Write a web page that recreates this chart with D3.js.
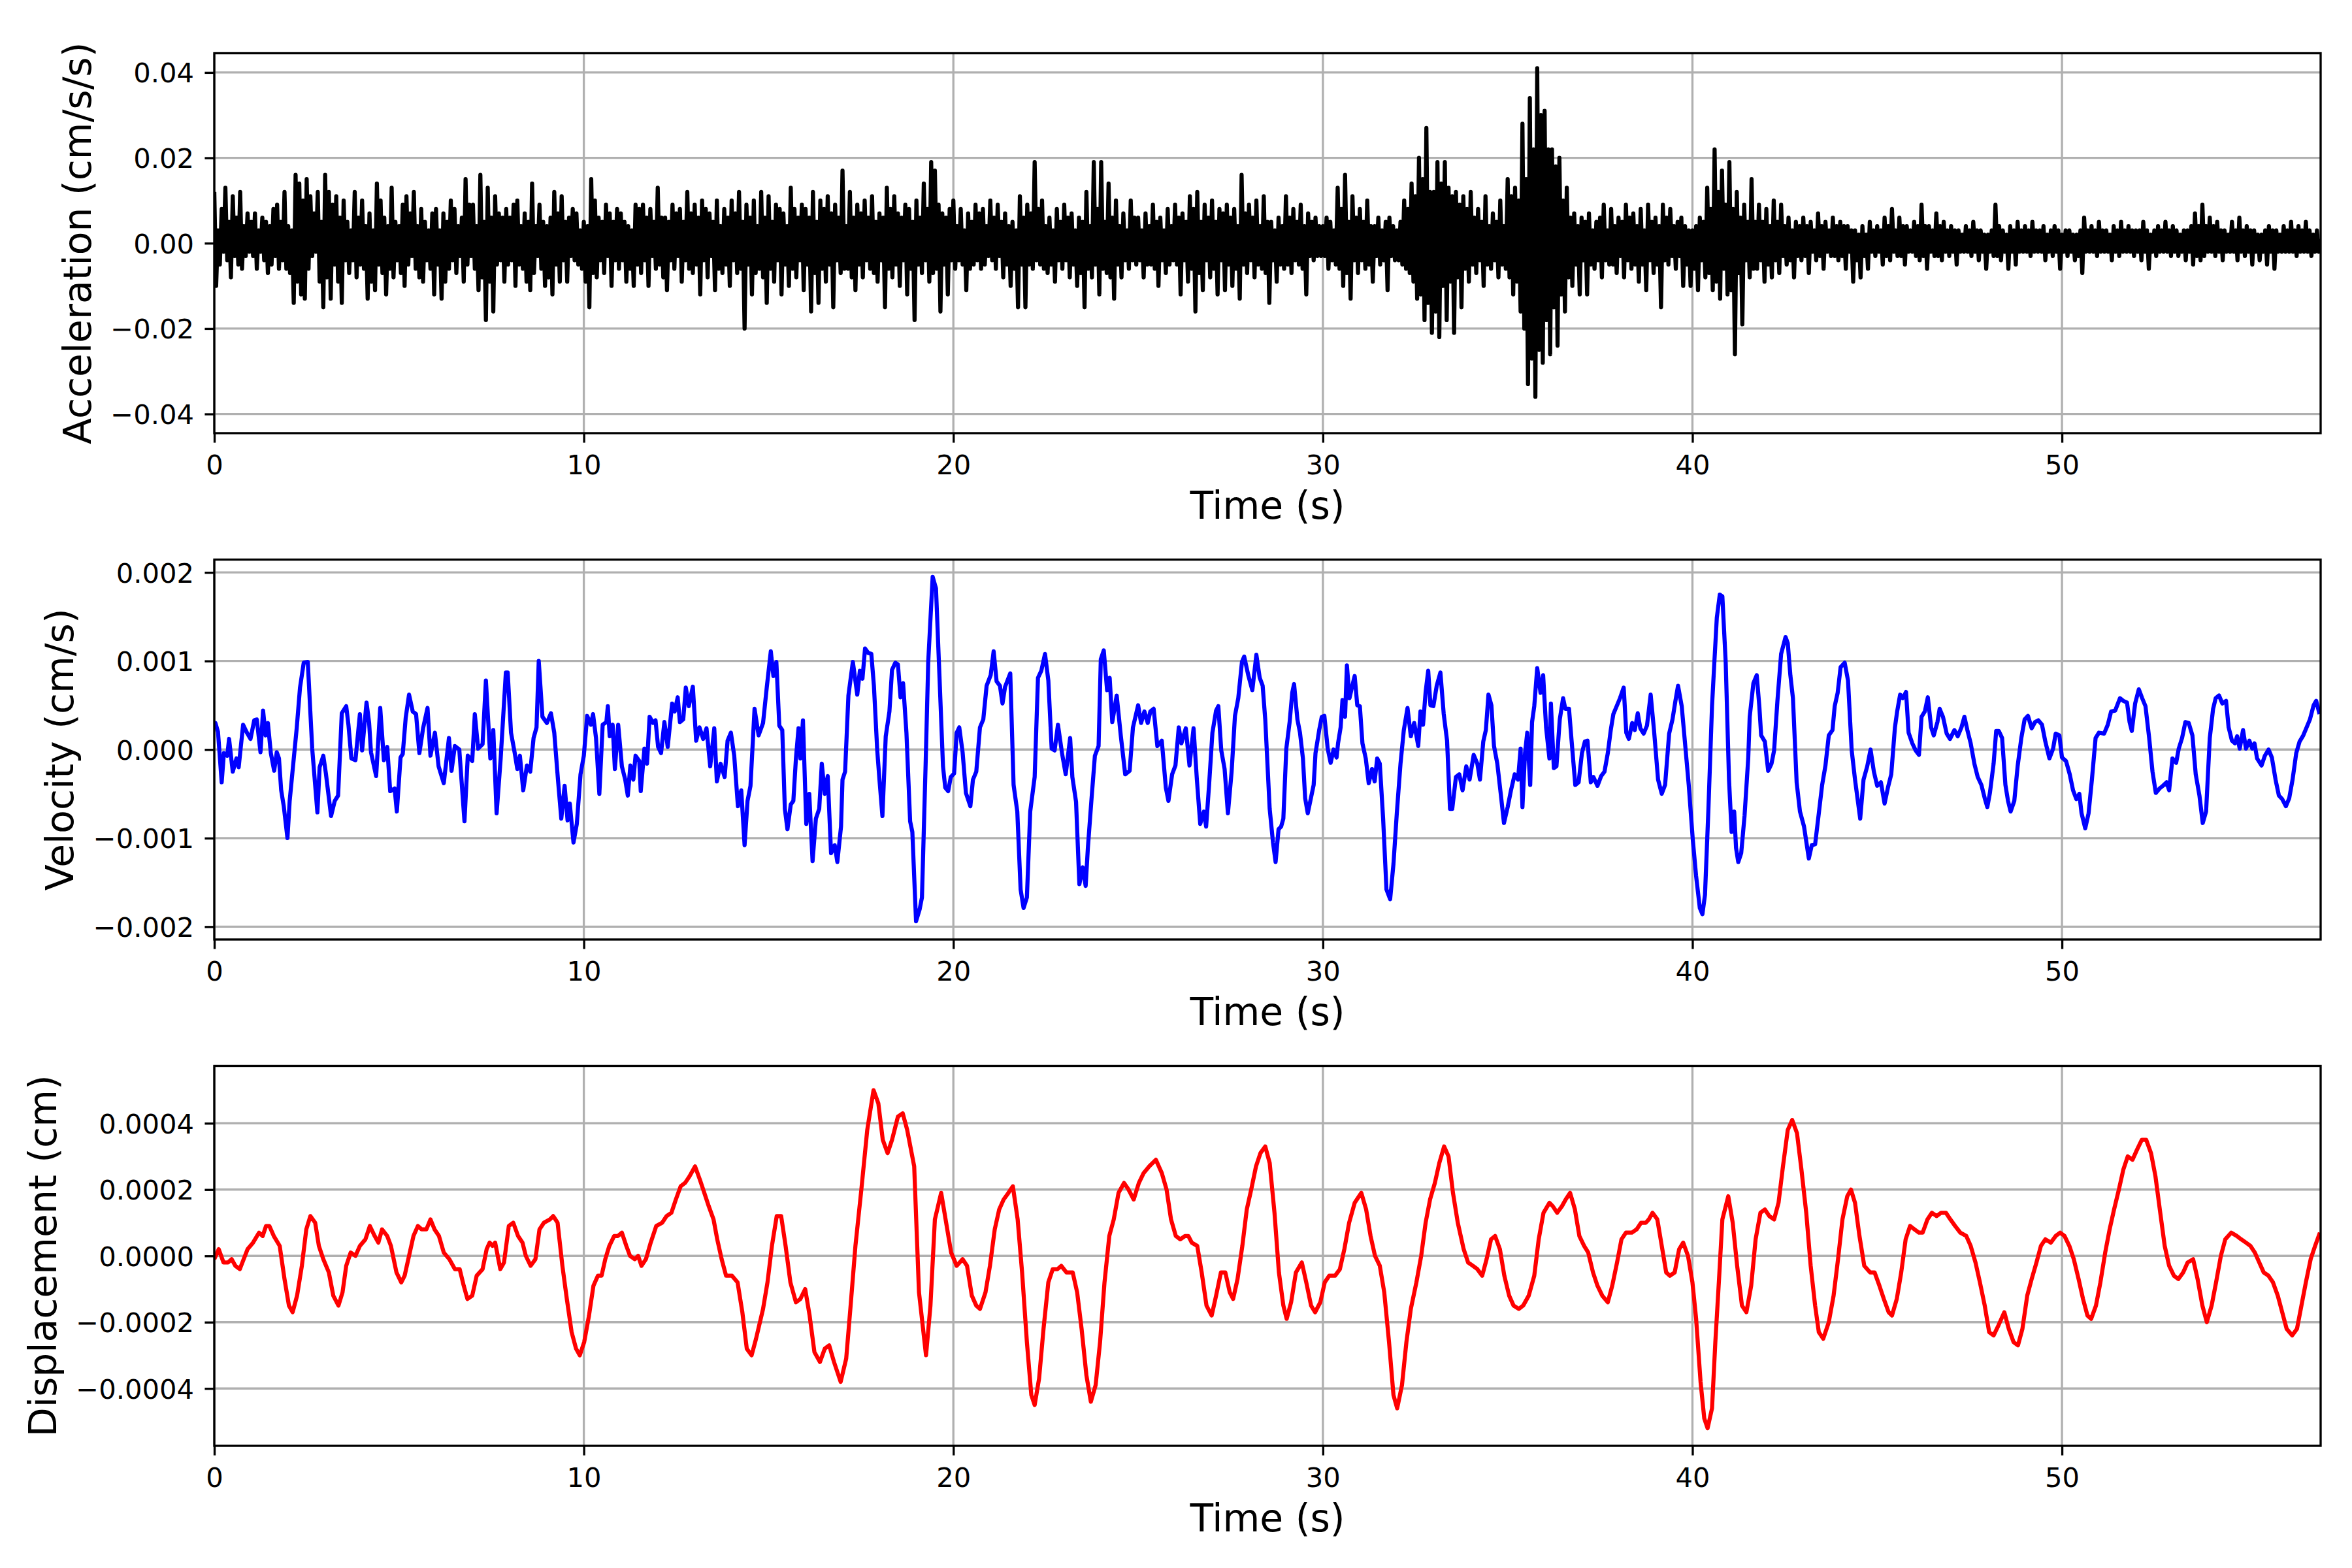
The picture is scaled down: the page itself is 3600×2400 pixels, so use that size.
<!DOCTYPE html>
<html>
<head>
<meta charset="utf-8">
<script src="https://d3js.org/d3.v7.min.js"></script>
<title>Ground motion</title>
<style>body{margin:0;background:#fff}</style>
</head>
<body>
<svg></svg>
<script>
// ---- data ----
const timeTicks = [0, 10, 20, 30, 40, 50];
const accTicks = [-0.04, -0.02, 0, 0.02, 0.04];
const velTicks = [-0.002, -0.001, 0, 0.001, 0.002];
const dispTicks = [-0.0004, -0.0002, 0, 0.0002, 0.0004];

// acceleration in units of 0.001 cm/s/s, one sample every accStep seconds (one row per second)
const accStep = 0.05;
const accMilli = [
  12,-10,3,-5,8,-2,13,-4,5,-8,11,-3,6,-5,12,-6,4,-3,7,-2,
  5,-3,7,-6,3,-2,6,-4,5,-7,4,-5,8,-3,9,-6,5,-4,12,-6,
  4,-7,3,-14,16,-9,14,-12,10,-13,15,-6,11,-3,7,-2,12,-9,5,-15,
  16,-8,12,-13,9,-5,11,-9,6,-14,10,-4,5,-7,3,-4,12,-8,6,-5,
  10,-6,4,-13,7,-9,3,-11,14,-5,10,-7,6,-12,4,-6,13,-8,5,-4,
  4,-7,9,-10,11,-5,7,-3,12,-6,4,-8,8,-9,5,-4,3,-6,7,-12,
  8,-5,3,-13,7,-9,5,-6,10,-4,8,-7,4,-3,6,-9,15,-5,9,-3,
  9,-6,4,-11,16,-8,5,-18,13,-9,6,-16,11,-5,7,-4,6,-9,8,-5,
  6,-4,9,-10,10,-5,4,-6,7,-9,5,-11,14,-7,4,-3,9,-6,5,-10,
  4,-8,6,-12,12,-5,7,-9,11,-4,5,-9,6,-3,8,-4,7,-5,3,-6,
  5,-9,4,-15,15,-7,10,-8,6,-4,5,-7,9,-3,7,-10,5,-4,8,-6,
  7,-4,5,-9,4,-6,3,-10,9,-5,8,-7,9,-4,6,-10,8,-3,5,-6,
  13,-5,6,-8,6,-11,5,-4,9,-6,7,-3,8,-9,5,-4,12,-6,7,-7,
  9,-5,6,-12,10,-4,8,-8,7,-3,5,-11,10,-6,4,-7,8,-5,6,-10,
  10,-4,7,-7,12,-6,5,-20,9,-5,6,-12,10,-7,4,-6,12,-8,6,-14,
  11,-6,5,-9,9,-4,8,-12,7,-5,4,-10,13,-6,8,-8,6,-4,9,-11,
  8,-5,6,-16,12,-7,5,-14,10,-6,8,-9,11,-5,7,-15,9,-4,6,-7,
  17,-6,4,-6,12,-8,6,-11,9,-5,7,-8,10,-4,6,-6,11,-7,5,-9,
  7,-4,6,-15,13,-6,8,-8,11,-5,7,-10,6,-4,9,-12,8,-6,5,-18,
  10,-5,6,-7,14,-4,8,-9,19,-7,17,-6,9,-16,7,-5,6,-12,8,-4,
  10,-6,4,-4,8,-5,3,-11,7,-6,5,-5,9,-4,7,-6,8,-5,4,-3,
  10,-4,6,-6,9,-3,5,-8,7,-5,4,-10,5,-6,3,-15,11,-5,6,-15,
  9,-5,7,-6,19,-4,8,-5,10,-6,4,-7,6,-5,3,-9,8,-4,5,-6,
  9,-4,6,-8,7,-5,3,-10,6,-7,5,-15,12,-6,4,-8,19,-5,8,-12,
  19,-6,5,-7,14,-8,6,-13,10,-5,4,-8,7,-4,3,-6,10,-4,6,-5,
  6,-4,3,-8,7,-5,4,-5,9,-6,5,-10,6,-4,3,-7,8,-5,4,-4,
  9,-5,6,-12,7,-4,5,-9,11,-6,8,-16,12,-7,5,-11,9,-4,6,-8,
  10,-6,5,-12,8,-4,7,-11,9,-5,6,-10,8,-6,4,-13,16,-5,7,-7,
  9,-4,6,-8,10,-5,4,-6,11,-7,5,-14,5,-4,3,-9,6,-5,4,-6,
  11,-5,6,-7,8,-4,5,-5,9,-6,4,-12,7,-3,5,-4,6,-3,4,-3,
  4,-3,6,-6,5,-4,3,-5,13,-6,8,-10,16,-7,5,-13,11,-4,6,-7,
  8,-4,5,-6,10,-5,4,-9,4,-3,6,-5,3,-4,5,-11,6,-3,4,-4,
  3,-4,5,-5,10,-6,8,-7,14,-9,11,-13,20,-12,15,-18,27,-14,12,-21,
  12,-16,19,-22,14,-10,19,-18,13,-9,11,-21,12,-8,9,-15,11,-6,8,-9,
  12,-5,6,-7,8,-4,5,-10,11,-5,4,-6,7,-4,5,-8,10,-5,4,-6,
  15,-8,11,-12,13,-9,10,-16,28,-20,15,-33,34,-27,22,-36,41,-25,30,-28,
  31,-18,22,-26,22,-15,18,-24,20,-12,10,-16,13,-8,6,-10,7,-5,4,-12,
  6,-4,5,-12,7,-5,3,-6,5,-4,6,-8,9,-4,3,-5,8,-5,4,-7,
  6,-3,5,-8,9,-4,6,-6,7,-5,4,-9,8,-5,3,-11,9,-4,5,-7,
  6,-5,4,-15,9,-4,6,-5,8,-3,4,-6,5,-3,6,-10,4,-5,3,-10,
  3,-6,4,-11,6,-4,5,-8,13,-7,8,-11,22,-9,12,-13,17,-6,9,-12,
  19,-11,8,-26,12,-7,6,-19,9,-4,5,-8,15,-6,5,-6,9,-4,5,-9,
  8,-5,4,-8,10,-4,5,-7,9,-3,4,-5,6,-4,3,-8,5,-3,4,-4,
  6,-3,4,-7,5,-2,3,-4,7,-3,4,-6,5,-2,3,-3,6,-3,4,-4,
  5,-3,4,-6,4,-2,3,-9,3,-4,2,-8,4,-3,2,-6,5,-2,3,-3,
  4,-2,3,-5,6,-3,4,-4,8,-2,3,-3,6,-3,4,-5,4,-2,3,-2,
  5,-3,4,-4,9,-3,4,-6,4,-2,3,-3,7,-3,4,-4,5,-2,3,-3,
  4,-2,3,-5,3,-2,2,-2,4,-2,3,-3,5,-2,3,-4,3,-2,2,-6,
  2,-2,3,-3,9,-3,4,-4,3,-2,2,-6,4,-2,3,-5,5,-2,3,-2,
  4,-2,3,-3,5,-2,3,-2,3,-2,4,-4,2,-2,3,-3,4,-2,3,-6,
  2,-2,3,-3,3,-2,2,-4,2,-3,3,-7,6,-2,3,-2,4,-2,3,-3,
  5,-2,3,-2,3,-2,2,-4,4,-2,3,-3,5,-2,3,-2,4,-2,3,-3,
  3,-2,3,-4,5,-2,3,-6,2,-2,3,-3,4,-2,3,-2,5,-2,3,-3,
  4,-2,3,-3,2,-2,3,-4,3,-2,4,-5,7,-3,4,-4,9,-3,4,-2,
  6,-2,4,-3,5,-2,3,-4,3,-2,2,-2,5,-2,3,-4,6,-2,3,-3,
  4,-2,3,-5,3,-2,2,-4,2,-2,3,-5,4,-2,3,-6,3,-2,2,-2,
  4,-2,3,-2,5,-2,3,-3,4,-2,3,-2,5,-2,3,-3,2,-2,3,-2,
  1
];

// velocity, [time s, cm/s]
const velPoints = [
  [0,0.00025],[0.03,0.0003],[0.1,0.0002],[0.2,-0.00037],[0.26,-0.00004],[0.35,-0.00007],[0.4,0.00012],[0.5,-0.00025],
  [0.6,-0.0001],[0.66,-0.0002],[0.78,0.00028],[0.87,0.0002],[0.98,0.00012],[1.08,0.00033],[1.15,0.00034],[1.25,-0.00003],
  [1.32,0.00044],[1.39,0.00016],[1.45,0.0003],[1.53,-0.00004],[1.62,-0.00024],[1.69,-0.00003],[1.75,-0.0001],[1.81,-0.00046],
  [1.88,-0.00064],[1.98,-0.001],[2.04,-0.00058],[2.13,-0.00019],[2.23,0.00024],[2.32,0.0007],[2.42,0.00098],[2.53,0.00099],
  [2.65,0.00001],[2.79,-0.00071],[2.85,-0.0002],[2.95,-0.00007],[3.02,-0.00027],[3.16,-0.00075],[3.26,-0.00058],[3.35,-0.00052],
  [3.45,0.00041],[3.57,0.00049],[3.63,0.00028],[3.71,-0.0001],[3.82,-0.00012],[3.94,0.0004],[4.0,-0.00001],[4.12,0.00053],
  [4.19,0.0003],[4.24,-0.00003],[4.38,-0.0003],[4.49,0.00047],[4.59,-0.00012],[4.68,0.00003],[4.76,-0.00047],[4.88,-0.00044],
  [4.94,-0.0007],[5.04,-0.00009],[5.1,-0.00005],[5.18,0.00036],[5.27,0.00062],[5.37,0.00043],[5.46,0.0004],[5.55,-0.00004],
  [5.65,0.00024],[5.77,0.00047],[5.85,-0.00007],[5.97,0.00019],[6.07,-0.00019],[6.21,-0.00038],[6.35,0.00013],[6.42,-0.00024],
  [6.51,0.00004],[6.63,0],[6.77,-0.00081],[6.86,-0.00007],[6.98,-0.00013],[7.05,0.0004],[7.14,0.00001],[7.26,0.00006],
  [7.35,0.00078],[7.47,-0.0001],[7.55,0.00022],[7.64,-0.00072],[7.75,-0.0001],[7.89,0.00087],[7.94,0.00087],[8.03,0.00019],
  [8.13,-0.00004],[8.2,-0.00022],[8.27,-0.00007],[8.36,-0.00046],[8.46,-0.00018],[8.55,-0.00025],[8.64,0.00013],[8.72,0.00025],
  [8.78,0.001],[8.88,0.00037],[9.0,0.0003],[9.11,0.00041],[9.2,0.00019],[9.3,-0.00034],[9.39,-0.00078],[9.48,-0.00041],
  [9.56,-0.0008],[9.62,-0.00061],[9.72,-0.00105],[9.81,-0.00084],[9.91,-0.00028],[10.0,-0.00007],[10.09,0.00038],[10.19,0.00028],
  [10.25,0.0004],[10.33,0.00013],[10.42,-0.0005],[10.51,0.00028],[10.61,0.00031],[10.65,0.00049],[10.7,0.00015],[10.78,0.00028],
  [10.84,-0.00022],[10.93,0.00028],[11.03,-0.00019],[11.12,-0.00034],[11.19,-0.00052],[11.26,-0.00018],[11.34,-0.00034],[11.4,-0.00007],
  [11.5,-0.00013],[11.54,-0.00047],[11.64,0.00001],[11.71,-0.00016],[11.78,0.00037],[11.87,0.0003],[11.94,0.00033],[12.01,0.00003],
  [12.09,-0.00004],[12.18,0.00031],[12.27,0.00003],[12.39,0.00052],[12.46,0.00043],[12.54,0.00059],[12.6,0.00031],[12.69,0.00034],
  [12.76,0.0007],[12.84,0.00049],[12.95,0.00071],[13.04,0.0001],[13.13,0.00025],[13.23,0.00012],[13.32,0.00024],[13.42,-0.00019],
  [13.53,0.00024],[13.6,-0.00036],[13.7,-0.00016],[13.81,-0.00031],[13.89,0.0001],[13.98,0.00019],[14.07,-0.00007],[14.17,-0.00064],
  [14.26,-0.00046],[14.35,-0.00108],[14.43,-0.00058],[14.51,-0.00041],[14.62,0.00046],[14.73,0.00016],[14.85,0.0003],[14.95,0.0007],
  [15.06,0.00111],[15.13,0.00083],[15.21,0.00099],[15.29,0.00027],[15.37,0.00022],[15.44,-0.00067],[15.51,-0.0009],[15.6,-0.00062],
  [15.67,-0.00058],[15.74,-0.0001],[15.81,0.00024],[15.86,-0.0001],[15.93,0.00033],[16.02,-0.00084],[16.1,-0.0005],[16.19,-0.00126],
  [16.28,-0.00078],[16.37,-0.00067],[16.44,-0.00016],[16.52,-0.0005],[16.6,-0.0003],[16.69,-0.00117],[16.79,-0.00108],[16.86,-0.00127],
  [16.96,-0.00087],[17.0,-0.00034],[17.07,-0.00025],[17.16,0.00061],[17.28,0.00099],[17.4,0.00062],[17.47,0.00089],[17.54,0.0008],
  [17.61,0.00114],[17.7,0.00109],[17.78,0.00108],[17.85,0.00072],[17.94,-0.00001],[18.0,-0.00034],[18.08,-0.00075],[18.17,0.00015],
  [18.27,0.00043],[18.34,0.0009],[18.43,0.00098],[18.5,0.00096],[18.57,0.00059],[18.64,0.00075],[18.73,0.00019],[18.83,-0.00081],
  [18.89,-0.00093],[18.99,-0.00194],[19.09,-0.0018],[19.15,-0.00167],[19.25,-0.00016],[19.32,0.00099],[19.44,0.00195],[19.53,0.00182],
  [19.6,0.00108],[19.72,-0.00019],[19.78,-0.00043],[19.86,-0.00047],[19.93,-0.00031],[20.02,-0.00027],[20.09,0.00019],[20.16,0.00025],
  [20.25,-0.00003],[20.34,-0.00049],[20.46,-0.00064],[20.53,-0.00034],[20.62,-0.00025],[20.72,0.00025],[20.81,0.00034],[20.9,0.00072],
  [21.01,0.00084],[21.09,0.00111],[21.17,0.00077],[21.26,0.00072],[21.33,0.00052],[21.4,0.00071],[21.54,0.00086],[21.63,-0.0004],
  [21.73,-0.0007],[21.82,-0.00158],[21.9,-0.00179],[21.99,-0.00167],[22.08,-0.0007],[22.2,-0.00031],[22.29,0.00081],[22.38,0.00089],
  [22.48,0.00108],[22.57,0.00078],[22.66,0.00001],[22.74,-0.00001],[22.83,0.00028],[22.94,-0.00004],[23.04,-0.00028],[23.16,0.00013],
  [23.22,-0.00031],[23.32,-0.00059],[23.41,-0.00152],[23.5,-0.00133],[23.58,-0.00154],[23.64,-0.00111],[23.74,-0.00055],[23.83,-0.00007],
  [23.93,0.00004],[23.99,0.00102],[24.07,0.00112],[24.16,0.00067],[24.23,0.00081],[24.3,0.00031],[24.42,0.00061],[24.53,0.00016],
  [24.65,-0.00028],[24.77,-0.00024],[24.86,0.00025],[25.0,0.0005],[25.08,0.0003],[25.17,0.00043],[25.26,0.0003],[25.33,0.00043],
  [25.42,0.00046],[25.52,0.00004],[25.64,0.0001],[25.75,-0.00043],[25.82,-0.00058],[25.92,-0.00028],[26.01,-0.00018],[26.1,0.00025],
  [26.17,0.00007],[26.29,0.00024],[26.39,-0.00018],[26.5,0.00024],[26.59,-0.00034],[26.68,-0.00084],[26.78,-0.0007],[26.84,-0.00087],
  [26.92,-0.0004],[27.01,0.00019],[27.11,0.00044],[27.17,0.00049],[27.25,-0.00001],[27.34,-0.00022],[27.43,-0.00072],[27.53,-0.00025],
  [27.62,0.00038],[27.71,0.00058],[27.81,0.00099],[27.87,0.00105],[27.98,0.00084],[28.09,0.00067],[28.2,0.00107],[28.29,0.00081],
  [28.37,0.00072],[28.44,0.00034],[28.56,-0.00067],[28.65,-0.00105],[28.72,-0.00127],[28.8,-0.0009],[28.87,-0.00087],[28.93,-0.00078],
  [29.01,0.00001],[29.1,0.00031],[29.17,0.00064],[29.22,0.00074],[29.31,0.00034],[29.38,0.00019],[29.46,-0.0001],[29.52,-0.00055],
  [29.59,-0.00072],[29.66,-0.00058],[29.75,-0.0004],[29.8,-0.00004],[29.9,0.00022],[29.97,0.00037],[30.04,0.00038],[30.13,0.00001],
  [30.21,-0.00015],[30.29,0],[30.37,-0.00009],[30.41,0.00007],[30.48,0.00025],[30.53,0.00056],[30.6,0.00037],[30.65,0.00095],
  [30.72,0.00058],[30.79,0.00071],[30.86,0.00083],[30.93,0.0005],[31.0,0.00049],[31.07,0.00007],[31.16,-0.0001],[31.24,-0.00038],
  [31.33,-0.00022],[31.4,-0.00036],[31.47,-0.0001],[31.54,-0.00016],[31.63,-0.00078],[31.72,-0.00158],[31.82,-0.00169],[31.91,-0.00129],
  [32.0,-0.00072],[32.1,-0.00016],[32.19,0.00022],[32.29,0.00047],[32.38,0.00015],[32.47,0.0003],[32.58,0.00004],[32.64,0.00043],
  [32.71,0.00028],[32.78,0.00065],[32.85,0.00089],[32.91,0.0005],[32.99,0.00049],[33.08,0.00072],[33.18,0.00087],[33.27,0.0004],
  [33.36,0.0001],[33.44,-0.00067],[33.5,-0.00067],[33.6,-0.00031],[33.69,-0.00028],[33.78,-0.00046],[33.88,-0.00019],[33.97,-0.00034],
  [34.08,-0.00006],[34.18,-0.00016],[34.25,-0.00034],[34.34,0.00009],[34.41,0.00022],[34.48,0.00062],[34.56,0.0005],[34.63,0.00004],
  [34.72,-0.00016],[34.81,-0.00049],[34.9,-0.00083],[35.0,-0.00065],[35.09,-0.00046],[35.19,-0.00028],[35.28,-0.00034],[35.35,0.00001],
  [35.4,-0.00065],[35.47,-0.00004],[35.53,0.00019],[35.61,-0.0004],[35.66,0.00031],[35.72,0.00049],[35.8,0.00092],[35.89,0.00064],
  [35.96,0.00084],[36.04,0.00025],[36.13,-0.0001],[36.17,0.00052],[36.25,-0.00021],[36.32,-0.00019],[36.41,0.00034],[36.5,0.00058],
  [36.56,0.00046],[36.66,0.00046],[36.73,0.0001],[36.83,-0.0004],[36.92,-0.00037],[37.01,-0.00004],[37.09,0.00009],[37.16,0.0001],
  [37.25,-0.00037],[37.32,-0.00031],[37.43,-0.00041],[37.53,-0.0003],[37.62,-0.00025],[37.71,-0.00004],[37.79,0.00022],[37.86,0.0004],
  [37.95,0.00049],[38.04,0.00058],[38.14,0.0007],[38.21,0.00019],[38.28,0.00012],[38.37,0.0003],[38.44,0.00022],[38.52,0.00041],
  [38.59,0.00024],[38.68,0.00018],[38.77,0.00027],[38.87,0.00062],[38.96,0.00022],[39.07,-0.00034],[39.17,-0.0005],[39.26,-0.0004],
  [39.37,0.00018],[39.46,0.00034],[39.54,0.00055],[39.61,0.00072],[39.71,0.00049],[39.8,0.00007],[39.9,-0.0004],[40.01,-0.00102],
  [40.1,-0.00143],[40.2,-0.00179],[40.27,-0.00186],[40.34,-0.00164],[40.43,-0.0007],[40.53,0.00049],[40.59,0.00096],[40.66,0.00149],
  [40.74,0.00175],[40.81,0.00173],[40.9,0.00099],[40.99,-0.00034],[41.06,-0.00093],[41.13,-0.0007],[41.18,-0.00111],[41.24,-0.00127],
  [41.32,-0.00117],[41.41,-0.00075],[41.51,-0.0001],[41.55,0.00037],[41.65,0.00075],[41.74,0.00084],[41.81,0.00049],[41.86,0.00016],
  [41.96,0.00009],[42.05,-0.00024],[42.14,-0.00016],[42.21,-0.00001],[42.3,0.00055],[42.4,0.00108],[42.52,0.00127],[42.58,0.0012],
  [42.65,0.00084],[42.72,0.00058],[42.82,-0.00037],[42.91,-0.0007],[43.02,-0.00087],[43.15,-0.00123],[43.23,-0.00108],[43.32,-0.00107],
  [43.42,-0.00072],[43.51,-0.0004],[43.6,-0.00018],[43.69,0.00016],[43.79,0.00022],[43.85,0.00049],[43.93,0.00064],[44.01,0.00093],
  [44.12,0.00098],[44.21,0.00078],[44.31,-0.00001],[44.4,-0.00034],[44.54,-0.00078],[44.63,-0.00034],[44.73,-0.00019],[44.82,0],
  [44.91,-0.00025],[45.0,-0.00041],[45.1,-0.00037],[45.2,-0.00061],[45.29,-0.00043],[45.38,-0.00028],[45.48,0.00025],[45.54,0.00043],
  [45.62,0.00062],[45.69,0.00058],[45.78,0.00065],[45.85,0.00019],[45.95,0.00007],[46.04,-0.00001],[46.13,-0.00006],[46.2,0.00037],
  [46.29,0.00043],[46.37,0.00059],[46.46,0.00025],[46.53,0.00016],[46.63,0.00031],[46.69,0.00046],[46.78,0.00037],[46.88,0.00018],
  [46.97,0.00012],[47.09,0.00022],[47.18,0.00015],[47.28,0.00025],[47.36,0.00037],[47.44,0.00022],[47.53,0.00007],[47.63,-0.00016],
  [47.72,-0.00031],[47.82,-0.0004],[47.91,-0.00055],[47.98,-0.00065],[48.05,-0.00049],[48.15,-0.00016],[48.22,0.00021],[48.29,0.00021],
  [48.38,0.00013],[48.47,-0.0004],[48.54,-0.00058],[48.61,-0.0007],[48.71,-0.00058],[48.8,-0.00019],[48.9,0.00013],[48.99,0.00034],
  [49.08,0.00038],[49.18,0.00024],[49.27,0.00031],[49.36,0.00033],[49.46,0.00028],[49.55,0.00009],[49.66,-0.0001],[49.76,0.00001],
  [49.83,0.00018],[49.93,0.00016],[50.0,-0.00009],[50.11,-0.00013],[50.21,-0.00028],[50.3,-0.00046],[50.39,-0.00056],[50.47,-0.0005],
  [50.53,-0.00072],[50.63,-0.00089],[50.72,-0.00072],[50.81,-0.00034],[50.91,0.00013],[51.0,0.00019],[51.14,0.00018],[51.24,0.00028],
  [51.33,0.00043],[51.44,0.00044],[51.57,0.00058],[51.66,0.00055],[51.76,0.00053],[51.83,0.00031],[51.89,0.00021],[51.98,0.00052],
  [52.08,0.00068],[52.17,0.00058],[52.26,0.00049],[52.36,0.00013],[52.45,-0.00025],[52.54,-0.00049],[52.64,-0.00044],[52.73,-0.00041],
  [52.83,-0.00037],[52.9,-0.00046],[52.99,-0.0001],[53.09,-0.00015],[53.16,0.00001],[53.25,0.00013],[53.34,0.00031],[53.43,0.0003],
  [53.53,0.00016],[53.62,-0.00028],[53.72,-0.00052],[53.81,-0.00083],[53.9,-0.0007],[54.0,0.00013],[54.09,0.00046],[54.16,0.00058],
  [54.25,0.00061],[54.34,0.00052],[54.44,0.00055],[54.51,0.00025],[54.6,0.0001],[54.68,0.00007],[54.74,0.00015],[54.81,0.00001],
  [54.9,0.00022],[54.98,0.00001],[55.07,0.0001],[55.15,0.00001],[55.21,0.00007],[55.28,-0.0001],[55.4,-0.00018],[55.49,-0.00007],
  [55.59,0],[55.68,-0.00009],[55.78,-0.00034],[55.87,-0.00052],[55.96,-0.00056],[56.06,-0.00064],[56.15,-0.00055],[56.24,-0.00034],
  [56.34,-0.00004],[56.43,0.00009],[56.53,0.00016],[56.62,0.00025],[56.71,0.00034],[56.81,0.0005],[56.88,0.00055],[56.97,0.0004]
];

// displacement, [time s, cm]
const dispPoints = [
  [0,-0.00001],[0.12,0.00002],[0.25,-0.00002],[0.37,-0.00002],[0.47,-0.00001],[0.57,-0.00003],[0.69,-0.00004],[0.9,0.00002],
  [1.05,0.00004],[1.21,0.00007],[1.31,0.00006],[1.4,0.00009],[1.49,0.00009],[1.61,0.00006],[1.77,0.00003],[1.9,-0.00007],
  [2.02,-0.00015],[2.12,-0.00017],[2.24,-0.00012],[2.37,-0.00003],[2.49,0.00008],[2.6,0.00012],[2.73,0.0001],[2.83,0.00003],
  [2.95,-0.00001],[3.1,-0.00005],[3.22,-0.00012],[3.36,-0.00015],[3.47,-0.00011],[3.57,-0.00003],[3.69,0.00001],[3.82,0],
  [3.94,0.00003],[4.09,0.00005],[4.21,0.00009],[4.34,0.00006],[4.44,0.00004],[4.54,0.00008],[4.68,0.00006],[4.78,0.00003],
  [4.93,-0.00005],[5.06,-0.00008],[5.15,-0.00006],[5.27,0],[5.39,0.00006],[5.51,0.00009],[5.61,0.00008],[5.74,0.00008],
  [5.85,0.00011],[5.96,0.00008],[6.08,0.00006],[6.21,0.00001],[6.36,-0.00001],[6.51,-0.00004],[6.64,-0.00004],[6.75,-0.00009],
  [6.85,-0.00013],[6.98,-0.00012],[7.1,-0.00006],[7.26,-0.00004],[7.37,0.00002],[7.45,0.00004],[7.53,0.00003],[7.6,0.00004],
  [7.74,-0.00004],[7.84,-0.00002],[7.97,0.00009],[8.09,0.0001],[8.22,0.00006],[8.34,0.00004],[8.43,0],[8.56,-0.00003],
  [8.69,-0.00001],[8.8,0.00008],[8.92,0.0001],[9.08,0.00011],[9.17,0.00012],[9.29,0.0001],[9.42,-0.00003],[9.54,-0.00013],
  [9.67,-0.00023],[9.79,-0.00028],[9.89,-0.0003],[10.01,-0.00026],[10.14,-0.00018],[10.26,-0.00009],[10.38,-0.00006],[10.48,-0.00006],
  [10.58,-0.00001],[10.69,0.00003],[10.82,0.00006],[10.92,0.00006],[11.03,0.00007],[11.15,0.00003],[11.25,0],[11.38,-0.00001],
  [11.47,0],[11.56,-0.00003],[11.68,-0.00001],[11.81,0.00004],[11.96,0.00009],[12.12,0.0001],[12.24,0.00012],[12.37,0.00013],
  [12.49,0.00017],[12.62,0.00021],[12.74,0.00022],[12.86,0.00024],[13.01,0.00027],[13.14,0.00023],[13.26,0.00019],[13.38,0.00015],
  [13.51,0.00011],[13.61,0.00005],[13.73,-0.00001],[13.85,-0.00006],[14.01,-0.00006],[14.16,-0.00008],[14.29,-0.00017],[14.41,-0.00028],
  [14.54,-0.0003],[14.66,-0.00025],[14.85,-0.00016],[14.97,-0.00008],[15.09,0.00003],[15.22,0.00012],[15.34,0.00012],[15.46,0.00003],
  [15.59,-0.00008],[15.74,-0.00014],[15.86,-0.00013],[15.99,-0.0001],[16.11,-0.00018],[16.24,-0.00029],[16.39,-0.00032],[16.52,-0.00028],
  [16.64,-0.00027],[16.77,-0.00032],[16.95,-0.00038],[17.1,-0.00031],[17.22,-0.00015],[17.35,0.00003],[17.51,0.0002],[17.67,0.00038],
  [17.84,0.0005],[17.97,0.00046],[18.09,0.00035],[18.22,0.00031],[18.34,0.00035],[18.5,0.00042],[18.63,0.00043],[18.75,0.00038],
  [18.94,0.00027],[19.07,-0.00011],[19.26,-0.0003],[19.38,-0.00015],[19.5,0.00011],[19.67,0.00019],[19.79,0.00011],[19.94,0.00001],
  [20.09,-0.00003],[20.25,-0.00001],[20.37,-0.00003],[20.5,-0.00012],[20.62,-0.00015],[20.72,-0.00016],[20.87,-0.00011],[20.99,-0.00003],
  [21.12,0.00008],[21.24,0.00014],[21.36,0.00017],[21.49,0.00019],[21.61,0.00021],[21.74,0.00011],[21.86,-0.00005],[21.99,-0.00026],
  [22.11,-0.00042],[22.2,-0.00045],[22.32,-0.00037],[22.44,-0.00022],[22.57,-0.00008],[22.69,-0.00004],[22.82,-0.00004],[22.92,-0.00003],
  [23.06,-0.00005],[23.23,-0.00005],[23.35,-0.00011],[23.47,-0.00022],[23.6,-0.00036],[23.72,-0.00044],[23.85,-0.00039],[23.97,-0.00026],
  [24.09,-0.00008],[24.22,0.00006],[24.34,0.00011],[24.47,0.00019],[24.62,0.00022],[24.74,0.0002],[24.88,0.00017],[25.02,0.00022],
  [25.15,0.00025],[25.3,0.00027],[25.48,0.00029],[25.64,0.00025],[25.77,0.0002],[25.89,0.00011],[26.02,0.00006],[26.14,0.00005],
  [26.27,0.00006],[26.36,0.00006],[26.45,0.00004],[26.6,0.00003],[26.72,-0.00005],[26.85,-0.00015],[26.99,-0.00018],[27.11,-0.00012],
  [27.24,-0.00005],[27.36,-0.00005],[27.48,-0.00011],[27.57,-0.00013],[27.69,-0.00007],[27.82,0.00003],[27.94,0.00014],[28.06,0.0002],
  [28.19,0.00027],[28.31,0.00031],[28.44,0.00033],[28.56,0.00028],[28.69,0.00013],[28.81,-0.00005],[28.93,-0.00015],[29.02,-0.00019],
  [29.14,-0.00014],[29.27,-0.00005],[29.43,-0.00002],[29.55,-0.00008],[29.68,-0.00015],[29.79,-0.00017],[29.93,-0.00014],[30.05,-0.00008],
  [30.17,-0.00006],[30.33,-0.00006],[30.46,-0.00004],[30.58,0.00002],[30.71,0.0001],[30.86,0.00016],[31.04,0.00019],[31.17,0.00014],
  [31.29,0.00006],[31.41,0],[31.54,-0.00003],[31.66,-0.00011],[31.79,-0.00026],[31.91,-0.00042],[32.01,-0.00046],[32.14,-0.00039],
  [32.26,-0.00026],[32.38,-0.00016],[32.53,-0.00008],[32.66,0],[32.78,0.0001],[32.9,0.00017],[33.03,0.00022],[33.15,0.00028],
  [33.28,0.00033],[33.4,0.0003],[33.52,0.00019],[33.65,0.0001],[33.81,0.00002],[33.93,-0.00002],[34.06,-0.00003],[34.18,-0.00004],
  [34.31,-0.00006],[34.43,-0.00001],[34.55,0.00005],[34.66,0.00006],[34.79,0.00002],[34.91,-0.00006],[35.04,-0.00012],[35.16,-0.00015],
  [35.3,-0.00016],[35.42,-0.00015],[35.57,-0.00012],[35.72,-0.00006],[35.84,0.00005],[35.97,0.00013],[36.13,0.00016],[36.22,0.00015],
  [36.34,0.00013],[36.47,0.00015],[36.57,0.00017],[36.69,0.00019],[36.82,0.00014],[36.94,0.00006],[37.07,0.00003],[37.18,0.00001],
  [37.31,-0.00005],[37.43,-0.00009],[37.56,-0.00012],[37.71,-0.00014],[37.83,-0.00009],[37.96,-0.00002],[38.08,0.00005],[38.2,0.00007],
  [38.36,0.00007],[38.49,0.00008],[38.61,0.0001],[38.74,0.0001],[38.82,0.00011],[38.92,0.00013],[39.05,0.00011],[39.17,0.00003],
  [39.29,-0.00005],[39.39,-0.00006],[39.52,-0.00005],[39.64,0.00002],[39.75,0.00004],[39.88,0],[40.0,-0.00008],[40.1,-0.00019],
  [40.22,-0.00038],[40.32,-0.00049],[40.41,-0.00052],[40.53,-0.00046],[40.62,-0.00026],[40.72,-0.00007],[40.81,0.00011],[40.97,0.00018],
  [41.09,0.0001],[41.21,-0.00003],[41.34,-0.00015],[41.46,-0.00017],[41.59,-0.00009],[41.71,0.00005],[41.84,0.00013],[41.96,0.00014],
  [42.08,0.00012],[42.21,0.00011],[42.33,0.00016],[42.45,0.00027],[42.58,0.00038],[42.7,0.00041],[42.83,0.00037],[42.95,0.00026],
  [43.08,0.00013],[43.2,-0.00003],[43.32,-0.00015],[43.42,-0.00023],[43.54,-0.00025],[43.69,-0.0002],[43.82,-0.00012],[43.94,-0.00001],
  [44.06,0.00011],[44.19,0.00018],[44.29,0.0002],[44.4,0.00016],[44.52,0.00006],[44.65,-0.00003],[44.81,-0.00005],[44.93,-0.00005],
  [45.06,-0.00009],[45.18,-0.00013],[45.31,-0.00017],[45.4,-0.00018],[45.53,-0.00013],[45.65,-0.00005],[45.77,0.00005],[45.89,0.00009],
  [46.01,0.00008],[46.13,0.00007],[46.23,0.00007],[46.36,0.00011],[46.48,0.00013],[46.61,0.00012],[46.73,0.00013],[46.86,0.00013],
  [46.98,0.00011],[47.11,0.00009],[47.25,0.00007],[47.41,0.00006],[47.53,0.00003],[47.66,-0.00002],[47.78,-0.00008],[47.91,-0.00015],
  [48.03,-0.00023],[48.15,-0.00024],[48.28,-0.00021],[48.44,-0.00017],[48.56,-0.00022],[48.69,-0.00026],[48.81,-0.00027],[48.93,-0.00022],
  [49.06,-0.00012],[49.18,-0.00007],[49.31,-0.00002],[49.43,0.00003],[49.55,0.00005],[49.7,0.00004],[49.83,0.00006],[49.95,0.00007],
  [50.07,0.00006],[50.2,0.00003],[50.32,-0.00001],[50.45,-0.00007],[50.57,-0.00013],[50.69,-0.00018],[50.79,-0.00019],[50.92,-0.00015],
  [51.04,-0.00008],[51.17,0.00001],[51.29,0.00008],[51.41,0.00014],[51.54,0.0002],[51.66,0.00026],[51.78,0.0003],[51.91,0.00029],
  [52.03,0.00032],[52.16,0.00035],[52.28,0.00035],[52.41,0.00031],[52.53,0.00024],[52.66,0.00013],[52.78,0.00003],[52.9,-0.00003],
  [53.03,-0.00006],[53.15,-0.00007],[53.28,-0.00005],[53.4,-0.00002],[53.55,-0.00001],[53.67,-0.00007],[53.8,-0.00015],[53.92,-0.0002],
  [54.05,-0.00015],[54.17,-0.00008],[54.3,0],[54.42,0.00005],[54.58,0.00007],[54.73,0.00006],[54.85,0.00005],[54.98,0.00004],
  [55.1,0.00003],[55.22,0.00001],[55.34,-0.00002],[55.46,-0.00005],[55.59,-0.00006],[55.71,-0.00008],[55.84,-0.00012],[55.96,-0.00017],
  [56.08,-0.00022],[56.23,-0.00024],[56.36,-0.00022],[56.48,-0.00015],[56.6,-0.00008],[56.73,-0.00001],[56.85,0.00003],[56.98,0.00007]
];

// ---- layout (3600 x 2400, 300 dpi figure) ----
const width = 3600, height = 2400;
const left = 328, right = 3552, panelHeight = 581.5;
const FONT = "DejaVu Sans";
const tickFont = 41.67, labelFont = 58.33;
const thin = 3.33, tickLen = 14.6;

const svg = d3.select("svg").attr("width", width).attr("height", height)
  .style("background", "#fff");

const x = d3.scaleLinear().domain([0, 57]).range([left, right]);

// milli-units -> cm/s/s
const accPoints = accMilli.map((v, i) => [i * accStep, v / 1000]);

const panels = [
  {top: 81.5, label: "Acceleration (cm/s/s)", color: "#000000", points: accPoints, ticks: accTicks, fmt: d3.format(".2f"), limit: 0.0445},
  {top: 856.5, label: "Velocity (cm/s)", color: "#0000ff", points: velPoints, ticks: velTicks, fmt: d3.format(".3f"), limit: 0.002145},
  {top: 1631.5, label: "Displacement (cm)", color: "#ff0000", points: dispPoints, ticks: dispTicks, fmt: d3.format(".4f"), limit: 0.000573}
];

panels.forEach((p, i) => {
  const bottom = p.top + panelHeight;
  const y = d3.scaleLinear().domain([-p.limit, p.limit]).range([bottom, p.top]);
  const g = svg.append("g");

  g.append("clipPath").attr("id", "clip" + i)
    .append("rect").attr("x", left).attr("y", p.top)
    .attr("width", right - left).attr("height", panelHeight);

  // grid
  g.append("g").selectAll("line").data(timeTicks).join("line")
    .attr("x1", d => x(d)).attr("x2", d => x(d))
    .attr("y1", p.top).attr("y2", bottom)
    .attr("stroke", "#b0b0b0").attr("stroke-width", thin);
  g.append("g").selectAll("line").data(p.ticks).join("line")
    .attr("x1", left).attr("x2", right)
    .attr("y1", d => y(d)).attr("y2", d => y(d))
    .attr("stroke", "#b0b0b0").attr("stroke-width", thin);

  // series
  const line = d3.line().x(d => x(d[0])).y(d => y(d[1]));
  g.append("path").datum(p.points)
    .attr("d", line)
    .attr("fill", "none")
    .attr("stroke", p.color)
    .attr("stroke-width", 6.25)
    .attr("stroke-linejoin", "round")
    .attr("clip-path", `url(#clip${i})`);

  // frame
  g.append("rect").attr("x", left).attr("y", p.top)
    .attr("width", right - left).attr("height", panelHeight)
    .attr("fill", "none").attr("stroke", "#000").attr("stroke-width", thin);

  // x axis
  const gx = g.append("g").attr("transform", `translate(0,${bottom})`)
    .call(d3.axisBottom(x).tickValues(timeTicks).tickFormat(d3.format("d"))
      .tickSize(tickLen).tickPadding(18.4));
  gx.select(".domain").remove();
  gx.attr("font-size", tickFont).attr("font-family", FONT);
  gx.selectAll("line").attr("stroke-width", thin);
  gx.selectAll("text").attr("fill", "#000");

  // y axis
  const gy = g.append("g").attr("transform", `translate(${left},0)`)
    .call(d3.axisLeft(y).tickValues(p.ticks).tickFormat(p.fmt)
      .tickSize(tickLen).tickPadding(16.4));
  gy.select(".domain").remove();
  gy.attr("font-size", tickFont).attr("font-family", FONT);
  gy.selectAll("line").attr("stroke-width", thin);
  gy.selectAll("text").attr("fill", "#000").attr("dy", "0.36em");

  let minX = 0;
  gy.selectAll("text").each(function () {
    minX = Math.min(minX, this.getBBox().x);
  });

  // labels
  g.append("text")
    .attr("x", (left + right) / 2).attr("y", bottom + 131)
    .attr("text-anchor", "middle")
    .attr("font-family", FONT).attr("font-size", labelFont)
    .text("Time (s)");

  const lx = left + minX - 16.7 - 13.8;
  const ly = p.top + panelHeight / 2;
  g.append("text")
    .attr("transform", `translate(${lx},${ly}) rotate(-90)`)
    .attr("text-anchor", "middle")
    .attr("font-family", FONT).attr("font-size", labelFont)
    .text(p.label);
});
</script>
</body>
</html>
